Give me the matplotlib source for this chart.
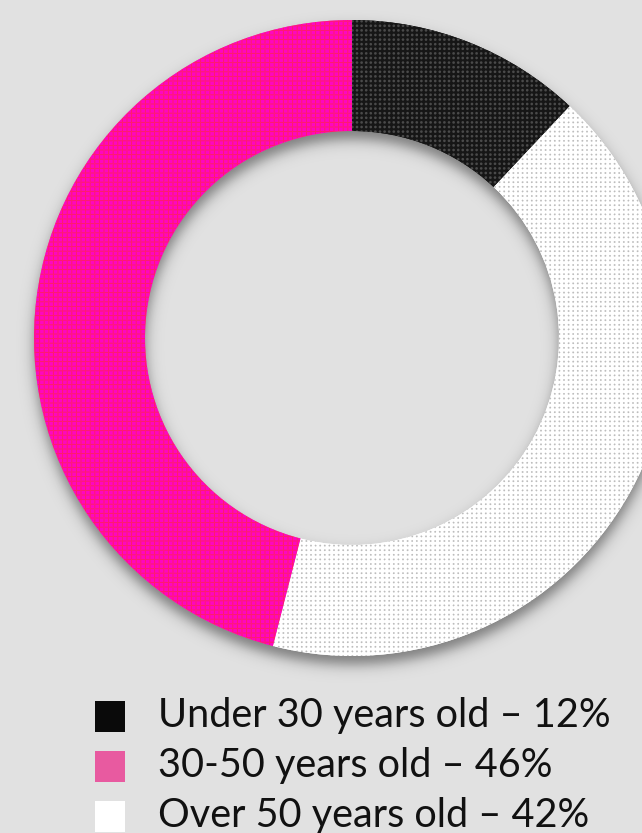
import numpy as np
import matplotlib
matplotlib.use("Agg")
import matplotlib.pyplot as plt
from matplotlib.patches import Rectangle

# ─── Data ───────────────────────────────────────────────────
AGE_GROUPS = ["Under 30 years old", "30-50 years old", "Over 50 years old"]
SHARES     = [12, 46, 42]
# ring is drawn clockwise from 12 o'clock: under 30, over 50, 30-50
RING_ORDER = [0, 2, 1]

# ─── Style ──────────────────────────────────────────────────
W, H       = 642, 833
BG         = "#e1e1e1"
CX, CY     = 352, 338          # ring centre, pixels from top-left
R_OUT      = 318
R_IN       = 207
LEGEND_SW  = ["#0a0a0a", "#e85aa0", "#ffffff"]

plt.rcParams["font.family"] = ["Lato", "DejaVu Sans"]


def dot_texture(base, dot, period, radius, phase=0.0):
    """RGB texture of soft dots on a flat base, one value per pixel."""
    yy, xx = np.mgrid[0:H, 0:W].astype(float)
    fx = (xx + phase) % period - period / 2
    fy = (yy + phase) % period - period / 2
    d = np.sqrt(fx ** 2 + fy ** 2)
    m = np.clip(radius + 0.5 - d, 0, 1)[..., None]
    base = np.array(matplotlib.colors.to_rgb(base))
    dot = np.array(matplotlib.colors.to_rgb(dot))
    return base * (1 - m) + dot * m


def grid_texture(base, line, period, width):
    """RGB texture with a fine woven grid (used for the pink slice)."""
    yy, xx = np.mgrid[0:H, 0:W].astype(float)
    gx = np.abs((xx % period) - period / 2)
    gy = np.abs((yy % period) - period / 2)
    m = np.clip(np.maximum(width - gx, width - gy), 0, 1)[..., None]
    base = np.array(matplotlib.colors.to_rgb(base))
    line = np.array(matplotlib.colors.to_rgb(line))
    return base * (1 - m) + line * m


def ring_shadow(offset=8, soft=8.0, strength=0.45):
    """Soft drop shadow of the ring, as an RGBA image."""
    yy, xx = np.mgrid[0:H, 0:W].astype(float)
    r = np.hypot(xx - CX, yy - (CY + offset))
    outer = 0.5 * (1 + np.tanh((R_OUT - r) / soft))
    inner = 0.5 * (1 + np.tanh((r - R_IN) / soft))
    img = np.zeros((H, W, 4))
    img[..., 3] = strength * outer * inner
    return img


TEXTURES = [
    dot_texture("#161616", "#4a4a4a", 4.6, 1.3),
    grid_texture("#ff06c0", "#ff1d68", 4.6, 1.0),
    dot_texture("#ffffff", "#bdbdbd", 4.6, 0.9),
]

fig = plt.figure(figsize=(W / 100, H / 100), dpi=100, facecolor=BG)
ax = fig.add_axes([0, 0, 1, 1])
ax.set_facecolor(BG)

extent = (0, W, 0, H)
ax.imshow(ring_shadow(), extent=extent, origin="upper", zorder=1,
          interpolation="bilinear")

wedges, _ = ax.pie(
    [SHARES[i] for i in RING_ORDER],
    center=(CX, H - CY), radius=R_OUT,
    startangle=90, counterclock=False,
    colors=[LEGEND_SW[i] for i in RING_ORDER],
    wedgeprops=dict(width=R_OUT - R_IN, linewidth=0),
)
for w, idx in zip(wedges, RING_ORDER):
    w.set_zorder(2)
    tex = ax.imshow(TEXTURES[idx], extent=extent, origin="upper",
                    zorder=3, interpolation="nearest")
    tex.set_clip_path(w)

# ─── Legend ────────────────────────────────────────────────
row_y = [716, 766, 816]
for name, share, sw, y in zip(AGE_GROUPS, SHARES, LEGEND_SW, row_y):
    ax.add_patch(Rectangle((95, H - y - 15.5), 30, 31, facecolor=sw,
                           edgecolor="none", zorder=4))
    ax.text(158, H - y, f"{name} \u2013 {share}%", fontsize=28.5,
            color="#111111", va="center", ha="left", zorder=4)

ax.set_xlim(0, W)
ax.set_ylim(0, H)
ax.set_aspect("auto")
ax.axis("off")

fig.savefig("out.png", dpi=100, facecolor=BG)
